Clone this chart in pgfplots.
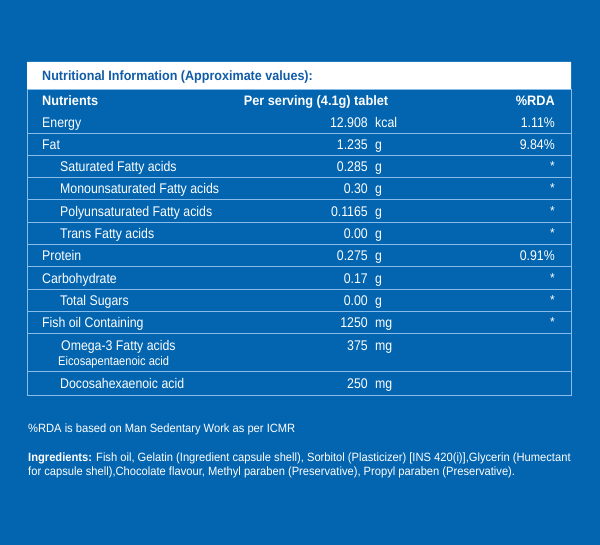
\documentclass[border=0pt]{standalone}
\usepackage{pgfplots}
\pgfplotsset{compat=1.18}
\usepackage{fontspec}
\setmainfont{Liberation Sans}
\newfontfamily\cond[FakeStretch=0.88]{Liberation Sans}
\newfontfamily\condf[FakeStretch=0.93]{Liberation Sans}
\definecolor{bg}{RGB}{3,101,175}
\definecolor{titleblue}{RGB}{16,92,168}
\definecolor{linecol}{RGB}{135,188,235}
\begin{document}
\begin{tikzpicture}
\begin{axis}[
  width=600pt, height=545pt, scale only axis,
  xmin=0, xmax=600, ymin=0, ymax=545, y dir=reverse,
  axis line style={draw=none}, ticks=none, clip=false,
]
% background
\addplot[fill=bg, draw=none] coordinates {(0,0) (600,0) (600,545) (0,545) (0,0)};
% title box
\addplot[fill=white, draw=none] coordinates {(27,62) (571,62) (571,90) (27,90) (27,62)};
% row lines
\pgfplotsinvokeforeach{134,156,178,200,223,245,267,290,312,334,372}{
  \addplot[linecol, line width=1pt] coordinates {(27,#1) (571,#1)};
}
% border
\addplot[linecol, line width=1pt] coordinates {(27,90) (571,90) (571,395) (27,395) (27,90)};

% title
\node[anchor=base west, text=titleblue, font=\condf\fontsize{13.5}{15}\selectfont\bfseries, inner sep=0pt] at (axis cs:42,81) {Nutritional Information (Approximate values):};
% header
\begin{scope}[every node/.style={text=white, inner sep=0pt, font=\condf\fontsize{13.7}{15}\selectfont\bfseries}]
\node[anchor=base west] at (axis cs:42,105.5) {Nutrients};
\node[anchor=base] at (axis cs:316,105.5) {Per serving (4.1g) tablet};
\node[anchor=base east] at (axis cs:555,105.5) {\%RDA};
\end{scope}
% body
\begin{scope}[every node/.style={text=white, inner sep=0pt, font=\cond\fontsize{14}{16}\selectfont}]
% names
\node[anchor=base west] at (axis cs:42,128) {Energy};
\node[anchor=base west] at (axis cs:42,150) {Fat};
\node[anchor=base west] at (axis cs:60,172) {Saturated Fatty acids};
\node[anchor=base west] at (axis cs:60,194) {Monounsaturated Fatty acids};
\node[anchor=base west] at (axis cs:60,216.5) {Polyunsaturated Fatty acids};
\node[anchor=base west] at (axis cs:60,239) {Trans Fatty acids};
\node[anchor=base west] at (axis cs:42,261) {Protein};
\node[anchor=base west] at (axis cs:42,283.5) {Carbohydrate};
\node[anchor=base west] at (axis cs:60,306) {Total Sugars};
\node[anchor=base west] at (axis cs:42,328) {Fish oil Containing};
\node[anchor=base west] at (axis cs:61,351) {Omega-3 Fatty acids};
\node[anchor=base west, font=\cond\fontsize{12.6}{14}\selectfont] at (axis cs:58,366) {Eicosapentaenoic acid};
\node[anchor=base west] at (axis cs:60,388.5) {Docosahexaenoic acid};
% values
\node[anchor=base east] at (axis cs:368,128) {12.908};
\node[anchor=base east] at (axis cs:368,150) {1.235};
\node[anchor=base east] at (axis cs:368,172) {0.285};
\node[anchor=base east] at (axis cs:368,194) {0.30};
\node[anchor=base east] at (axis cs:368,216.5) {0.1165};
\node[anchor=base east] at (axis cs:368,239) {0.00};
\node[anchor=base east] at (axis cs:368,261) {0.275};
\node[anchor=base east] at (axis cs:368,283.5) {0.17};
\node[anchor=base east] at (axis cs:368,306) {0.00};
\node[anchor=base east] at (axis cs:368,328) {1250};
\node[anchor=base east] at (axis cs:368,351) {375};
\node[anchor=base east] at (axis cs:368,388.5) {250};
% units
\node[anchor=base west] at (axis cs:375,128) {kcal};
\node[anchor=base west] at (axis cs:375,150) {g};
\node[anchor=base west] at (axis cs:375,172) {g};
\node[anchor=base west] at (axis cs:375,194) {g};
\node[anchor=base west] at (axis cs:375,216.5) {g};
\node[anchor=base west] at (axis cs:375,239) {g};
\node[anchor=base west] at (axis cs:375,261) {g};
\node[anchor=base west] at (axis cs:375,283.5) {g};
\node[anchor=base west] at (axis cs:375,306) {g};
\node[anchor=base west] at (axis cs:375,328) {mg};
\node[anchor=base west] at (axis cs:375,351) {mg};
\node[anchor=base west] at (axis cs:375,388.5) {mg};
% RDA
\node[anchor=base east] at (axis cs:555,128) {1.11\%};
\node[anchor=base east] at (axis cs:555,150) {9.84\%};
\node[anchor=base east, font=\condf\fontsize{13}{14}\selectfont] at (axis cs:555,171) {*};
\node[anchor=base east, font=\condf\fontsize{13}{14}\selectfont] at (axis cs:555,193) {*};
\node[anchor=base east, font=\condf\fontsize{13}{14}\selectfont] at (axis cs:555,215.5) {*};
\node[anchor=base east, font=\condf\fontsize{13}{14}\selectfont] at (axis cs:555,238) {*};
\node[anchor=base east] at (axis cs:555,261) {0.91\%};
\node[anchor=base east, font=\condf\fontsize{13}{14}\selectfont] at (axis cs:555,282.5) {*};
\node[anchor=base east, font=\condf\fontsize{13}{14}\selectfont] at (axis cs:555,305) {*};
\node[anchor=base east, font=\condf\fontsize{13}{14}\selectfont] at (axis cs:555,327) {*};
\end{scope}
% footer
\begin{scope}[every node/.style={text=white, inner sep=0pt, font=\condf\fontsize{12}{14}\selectfont}]
\node[anchor=base west] at (axis cs:28,432.5) {\%RDA is based on Man Sedentary Work as per ICMR};
\node[anchor=base west] at (axis cs:28,461.5) {\textbf{Ingredients:} Fish oil, Gelatin (Ingredient capsule shell), Sorbitol (Plasticizer) [INS 420(i)],Glycerin (Humectant};
\node[anchor=base west] at (axis cs:28,475) {for capsule shell),Chocolate flavour, Methyl paraben (Preservative), Propyl paraben (Preservative).};
\end{scope}
\end{axis}
\end{tikzpicture}
\end{document}
